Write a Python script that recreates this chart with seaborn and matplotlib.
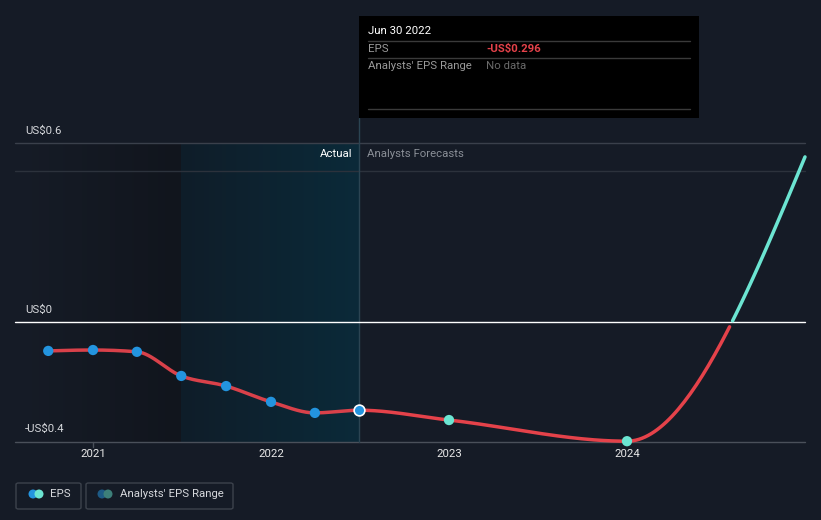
import numpy as np
import pandas as pd
import matplotlib
matplotlib.use("Agg")
import matplotlib.pyplot as plt
import seaborn as sns
from matplotlib.colors import LinearSegmentedColormap

# ---------------- data ----------------
actual_dates = ["2020-09-30", "2020-12-31", "2021-03-31", "2021-06-30",
                "2021-09-30", "2021-12-31", "2022-03-31", "2022-06-30"]
actual_eps = [-0.097, -0.094, -0.100, -0.181, -0.215, -0.268, -0.305, -0.296]

forecast_dates = ["2022-12-31", "2023-12-31", "2024-12-31"]
forecast_eps = [-0.329, -0.400, 0.554]

y_ticks = [0.6, 0.0, -0.4]
y_tick_labels = ["US$0.6", "US$0", "-US$0.4"]
x_ticks = [2021, 2022, 2023, 2024]
x_tick_labels = ["2021", "2022", "2023", "2024"]

tooltip_date = "Jun 30 2022"
tooltip_eps = "-US$0.296"


def to_year(dates):
    d = pd.to_datetime(pd.Series(dates))
    days = np.where(d.dt.is_leap_year, 366, 365)
    return (d.dt.year + d.dt.dayofyear / days).to_numpy(dtype=float)


ax_act = to_year(actual_dates)
ax_fc = to_year(forecast_dates)

df_act = pd.DataFrame({"x": ax_act, "eps": actual_eps})
df_fc = pd.DataFrame({"x": ax_fc, "eps": forecast_eps})


def monotone_curve(x, y, n=60):
    """d3 curveMonotoneX style path through the given points."""
    x = np.asarray(x, float)
    y = np.asarray(y, float)
    h = np.diff(x)
    s = np.diff(y) / h
    m = np.zeros_like(y)
    for i in range(1, len(y) - 1):
        s0, s1 = s[i - 1], s[i]
        p = (s0 * h[i] + s1 * h[i - 1]) / (h[i - 1] + h[i])
        m[i] = (np.sign(s0) + np.sign(s1)) * min(abs(s0), abs(s1), 0.5 * abs(p))
    m[0] = (3 * s[0] - m[1]) / 2 if len(y) > 2 else s[0]
    m[-1] = (3 * s[-1] - m[-2]) / 2 if len(y) > 2 else s[-1]
    xs, ys = [], []
    for i in range(len(h)):
        t = np.linspace(0, 1, n)
        h00 = 2 * t**3 - 3 * t**2 + 1
        h10 = t**3 - 2 * t**2 + t
        h01 = -2 * t**3 + 3 * t**2
        h11 = t**3 - t**2
        xs.append(x[i] + t * h[i])
        ys.append(h00 * y[i] + h10 * h[i] * m[i] + h01 * y[i + 1] + h11 * h[i] * m[i + 1])
    return np.concatenate(xs), np.concatenate(ys)


# ---------------- figure / pixel mapping ----------------
W, H = 821, 520
PX_YEAR = 178.0
X0_PX = 93.0          # pixel of 2021
Y0_PX = 322.0         # pixel of 0
PX_UNIT = 298.0

def px2x(px):
    return 2021 + (px - X0_PX) / PX_YEAR

def px2y(py):
    return (Y0_PX - py) / PX_UNIT

BG = "#151b26"
sns.set_theme(style="dark")
plt.rcParams["font.family"] = ["Roboto", "DejaVu Sans"]

fig = plt.figure(figsize=(W / 100, H / 100), dpi=100, facecolor=BG)
ax = fig.add_axes([0, 0, 1, 1])
ax.set_facecolor(BG)
ax.set_xlim(px2x(0), px2x(W))
ax.set_ylim(px2y(H), px2y(0))
ax.axis("off")

top_y = px2y(143)
bot_y = px2y(442)
left_x = px2x(15)
right_x = px2x(805)
split_x = ax_act[-1]
teal_start = ax_act[3]

# shaded past region (dark gradient)
grad1 = LinearSegmentedColormap.from_list("g1", ["#161c27", "#11151d"])
ax.imshow(np.linspace(0, 1, 256)[None, :], cmap=grad1, aspect="auto",
          extent=[left_x, teal_start, bot_y, top_y], zorder=0.5)
# last-year actual region (teal gradient)
grad2 = LinearSegmentedColormap.from_list("g2", ["#0f1d29", "#0b2a39"])
ax.imshow(np.linspace(0, 1, 256)[None, :], cmap=grad2, aspect="auto",
          extent=[teal_start, split_x, bot_y, top_y], zorder=0.5)

# grid lines
ax.plot([left_x, right_x], [top_y, top_y], color="#3a404b", lw=1, zorder=1)
ax.plot([left_x, right_x], [px2y(171), px2y(171)], color="#2c323c", lw=1, zorder=1)
ax.plot([left_x, right_x], [bot_y, bot_y], color="#4a505a", lw=1, zorder=1)
ax.plot([left_x, right_x], [0, 0], color="#ffffff", lw=1, zorder=1.5)
ax.plot([split_x, split_x], [bot_y, px2y(118)], color="#2b4452", lw=1, zorder=1)
for xt in x_ticks[:1]:
    ax.plot([xt, xt], [bot_y, px2y(447)], color="#4a505a", lw=1, zorder=1)

# curve
all_x = np.concatenate([ax_act, ax_fc])
all_y = np.concatenate([actual_eps, forecast_eps])
cx, cy = monotone_curve(all_x, all_y)
curve = pd.DataFrame({"x": cx, "eps": cy})
neg = curve[curve["eps"] <= 0.002]
pos = curve[curve["eps"] >= -0.002]
act_part = neg[neg["x"] <= split_x]
fc_neg = neg[neg["x"] >= split_x]
sns.lineplot(data=act_part, x="x", y="eps", ax=ax, color="#d9414a", lw=2.5,
             sort=False, estimator=None, zorder=3)
sns.lineplot(data=fc_neg, x="x", y="eps", ax=ax, color="#e5424a", lw=2.5,
             sort=False, estimator=None, zorder=3)
sns.lineplot(data=pos, x="x", y="eps", ax=ax, color="#6ce5d2", lw=2.5,
             sort=False, estimator=None, zorder=3)

# points
sns.scatterplot(data=df_act.iloc[:-1], x="x", y="eps", ax=ax, color="#2394df",
                s=55, edgecolor="none", zorder=4)
sns.scatterplot(data=df_act.iloc[-1:], x="x", y="eps", ax=ax, color="#2394df",
                s=60, edgecolor="white", linewidth=1.2, zorder=5)
sns.scatterplot(data=df_fc.iloc[:-1], x="x", y="eps", ax=ax, color="#6ce5d2",
                s=55, edgecolor="none", zorder=4)
ax.set_xlabel("")
ax.set_ylabel("")
ax.axis("off")

# y labels
lab_col = "#d6d8dc"
for v, t in zip(y_ticks, y_tick_labels):
    ax.text(px2x(25), v + 12 / PX_UNIT, t, color=lab_col, fontsize=8.2,
            ha="left", va="center", zorder=6)
# x labels
for v, t in zip(x_ticks, x_tick_labels):
    ax.text(v, px2y(454), t, color="#e8e8e8", fontsize=8.2, ha="center",
            va="center", zorder=6)

# section labels
ax.text(px2x(352), px2y(154), "Actual", color="#ffffff", fontsize=8.2,
        ha="right", va="center", zorder=6)
ax.text(px2x(367), px2y(154), "Analysts Forecasts", color="#8a8f97", fontsize=8.2,
        ha="left", va="center", zorder=6)

# tooltip (figure pixel coords)
def fx(px):
    return px / W

def fy(py):
    return 1 - py / H

from matplotlib.patches import Rectangle, FancyBboxPatch
fig.patches.append(Rectangle((fx(359), fy(118)), fx(699) - fx(359), fy(16) - fy(118),
                             transform=fig.transFigure, facecolor="#000000",
                             edgecolor="none", zorder=10))
for ly in (41, 58, 109):
    fig.lines.append(plt.Line2D([fx(368), fx(690)], [fy(ly), fy(ly)],
                                transform=fig.transFigure, color="#3a3a3a", lw=1, zorder=11))
fig.text(fx(368), fy(31), tooltip_date, color="#ffffff", fontsize=8.2, va="center", zorder=12)
fig.text(fx(368), fy(49), "EPS", color="#9a9a9a", fontsize=8.2, va="center", zorder=12)
fig.text(fx(486), fy(49), tooltip_eps, color="#e5424a", fontsize=8.2, va="center",
         fontweight="bold", zorder=12)
fig.text(fx(368), fy(66), "Analysts' EPS Range", color="#9a9a9a", fontsize=8.2,
         va="center", zorder=12)
fig.text(fx(486), fy(66), "No data", color="#6a6a6a", fontsize=8.2, va="center", zorder=12)

# legend
for (x0, x1) in ((16, 81), (86, 233)):
    fig.patches.append(FancyBboxPatch((fx(x0), fy(509)), fx(x1) - fx(x0), fy(483) - fy(509),
                                      boxstyle="round,pad=0,rounding_size=0.003",
                                      transform=fig.transFigure, facecolor="none",
                                      edgecolor="#3c424c", lw=1, zorder=10))
from matplotlib.patches import Circle
def dot(px, py, col):
    fig.patches.append(plt.matplotlib.patches.Ellipse((fx(px), fy(py)), 9 / W, 9 / H,
                       transform=fig.transFigure, facecolor=col, edgecolor="none", zorder=11))
dot(33, 494, "#2394df"); dot(39, 494, "#6ce5d2")
dot(102, 494, "#1d5a85"); dot(108, 494, "#3d7f79")
fig.text(fx(50), fy(494), "EPS", color="#d6d8dc", fontsize=8.2, va="center", zorder=12)
fig.text(fx(120), fy(494), "Analysts' EPS Range", color="#d6d8dc", fontsize=8.2,
         va="center", zorder=12)

fig.savefig("out.png", dpi=100, facecolor=BG)
